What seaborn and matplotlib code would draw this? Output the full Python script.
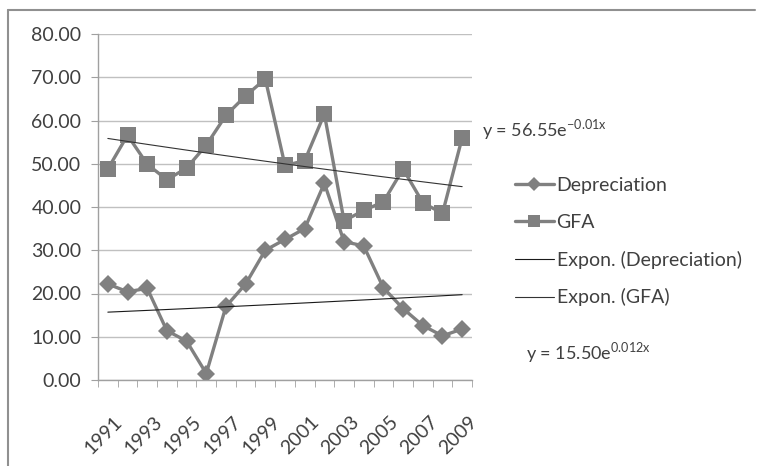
import numpy as np
import pandas as pd
import matplotlib
matplotlib.use('Agg')
import matplotlib.pyplot as plt
import matplotlib.transforms as mtransforms
import seaborn as sns
from matplotlib.lines import Line2D

years = [str(y) for y in range(1991, 2010)]
depreciation = [22.2, 20.4, 21.2, 11.4, 9.0, 1.5, 17.0, 22.2, 30.0, 32.5,
                35.0, 45.5, 32.0, 31.0, 21.3, 16.5, 12.6, 10.2, 11.8]
gfa = [48.8, 56.6, 49.9, 46.3, 49.0, 54.3, 61.2, 65.7, 69.6, 49.6,
       50.7, 61.5, 36.8, 39.2, 41.2, 48.8, 41.0, 38.5, 56.0]
eq_gfa = 'y = 56.55e$^{\\mathregular{-0.01x}}$'
eq_dep = 'y = 15.50e$^{\\mathregular{0.012x}}$'

sns.set_style('white')
plt.rcParams['font.family'] = ['Lato', 'DejaVu Sans']
text_col = '#404040'
series_col = '#808080'

df = pd.DataFrame({'pos': np.arange(len(years)), 'Depreciation': depreciation, 'GFA': gfa})

# excel style exponential trendlines: fit log(y) against x = 1..n
xs = np.arange(1, len(years) + 1)
for col in ['Depreciation', 'GFA']:
    b, ln_a = np.polyfit(xs, np.log(df[col]), 1)
    df['trend_' + col] = np.exp(ln_a) * np.exp(b * xs)

fig = plt.figure(figsize=(7.57, 4.66), dpi=100)
ax = fig.add_axes([98 / 757, 1 - 380 / 466, (472 - 98) / 757, (380 - 34) / 466])

sns.lineplot(data=df, x='pos', y='Depreciation', ax=ax, color=series_col, lw=2.4,
             marker='D', markersize=9, markeredgewidth=0, label='Depreciation')
sns.lineplot(data=df, x='pos', y='GFA', ax=ax, color=series_col, lw=2.4,
             marker='s', markersize=11, markeredgewidth=0, label='GFA')
sns.lineplot(data=df, x='pos', y='trend_Depreciation', ax=ax, color='#1a1a1a', lw=0.8,
             label='Expon. (Depreciation)')
sns.lineplot(data=df, x='pos', y='trend_GFA', ax=ax, color='#333333', lw=0.8,
             label='Expon. (GFA)')

ax.set_ylim(0, 80)
ax.set_xlim(-0.5, len(years) - 0.5)
ax.set_yticks(np.arange(0, 81, 10))
ax.set_yticklabels(['%.2f' % v for v in np.arange(0, 81, 10)], fontsize=14, color=text_col)
ax.yaxis.grid(True, color='#c0c0c0', lw=1)
ax.set_xticks(np.arange(0, len(years), 2))
ax.set_xticks(np.arange(-0.5, len(years), 1), minor=True)
ax.tick_params(axis='x', which='major', length=0, pad=0)
ax.tick_params(axis='x', which='minor', length=5, color='#a0a0a0', direction='out', bottom=True)
ax.tick_params(axis='y', length=5, color='#a0a0a0', direction='out', left=True, pad=7)
ax.set_xticklabels(years[::2], rotation=45, ha='right', va='top', rotation_mode='anchor',
                   fontsize=14, color=text_col)
shift = mtransforms.ScaledTranslation(6 / 100, -33 / 100, fig.dpi_scale_trans)
for lbl in ax.get_xticklabels():
    lbl.set_transform(lbl.get_transform() + shift)
ax.set_xlabel('')
ax.set_ylabel('')
for s in ['top', 'right']:
    ax.spines[s].set_visible(False)
for s in ['left', 'bottom']:
    ax.spines[s].set_color('#a0a0a0')
    ax.spines[s].set_linewidth(1)

leg = ax.legend(loc='upper left', bbox_to_anchor=(507 / 757, 1 - 169 / 466),
                bbox_transform=fig.transFigure, frameon=False, fontsize=14,
                labelcolor=text_col, handlelength=2.0, handletextpad=0.15,
                labelspacing=1.02, borderaxespad=0, markerscale=0.8)

fig.text(482 / 757, 1 - 130 / 466, eq_gfa, fontsize=13, color=text_col, va='center')
fig.text(526 / 757, 1 - 353 / 466, eq_dep, fontsize=13, color=text_col, va='center')

# chart area border (left and top visible)
fig.add_artist(Line2D([8 / 757, 8 / 757], [0, 1 - 10 / 466], transform=fig.transFigure,
                      color='#909090', lw=1.5))
fig.add_artist(Line2D([8 / 757, 755 / 757], [1 - 10 / 466, 1 - 10 / 466],
                      transform=fig.transFigure, color='#909090', lw=1.5))

fig.savefig('out.png', dpi=100, facecolor='white')
